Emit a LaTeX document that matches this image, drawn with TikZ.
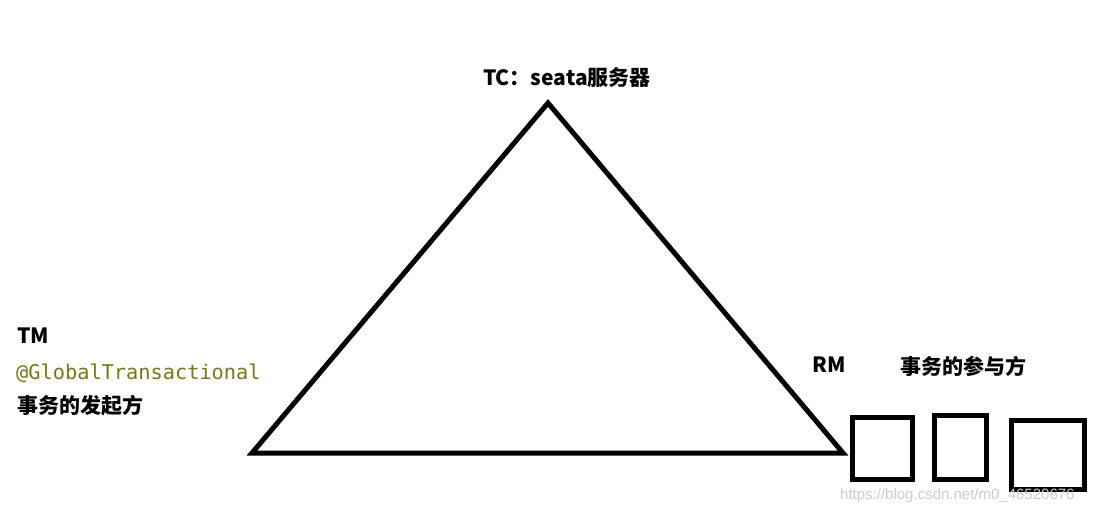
\documentclass[tikz,border=0pt]{standalone}
\usepackage{fontspec}
\newfontfamily\cjk{Noto Sans CJK SC}
\newfontfamily\monof{DejaVu Sans Mono}
\newfontfamily\wmf{Liberation Sans}
\definecolor{olivetext}{RGB}{120,120,20}
\definecolor{wmgray}{RGB}{205,205,205}
\begin{document}
\begin{tikzpicture}[x=1pt,y=-1pt,
  lbl/.style={inner sep=0pt,anchor=base west,font=\cjk\bfseries\fontsize{21}{24}\selectfont},
  code/.style={inner sep=0pt,anchor=base west,text=olivetext,font=\monof\fontsize{20.3}{24}\selectfont},
  edge/.style={line width=5pt,line join=miter},
  rmbox/.style={draw,line width=5pt}]
\useasboundingbox (0,0) rectangle (1096,513);
\fill[white] (0,0) rectangle (1096,513);
\coordinate (apex) at (548,103);
\coordinate (left) at (252,453);
\coordinate (right) at (843,453);
\draw[edge] (apex) -- (left) -- (right) -- cycle;
\draw[rmbox] (852.5,417.5) rectangle (912.5,479.5);
\draw[rmbox] (934.5,415.5) rectangle (986.5,479.5);
\draw[rmbox] (1011.5,420.5) rectangle (1084.5,489.5);
\node[lbl] (tc) at (483,86) {TC：seata服务器};
\node[lbl] (tm) at (17,344) {TM};
\node[code] (anno) at (16,379) {@GlobalTransactional};
\node[lbl] (tmdesc) at (17,413) {事务的发起方};
\node[lbl] (rm) at (812,372) {RM};
\node[lbl] (rmdesc) at (900,374) {事务的参与方};
\node[inner sep=0pt,anchor=base west,text=wmgray,font=\wmf\fontsize{15}{18}\selectfont] (wm) at (840,499) {https://blog.csdn.net/m0\_46520676};
\end{tikzpicture}
\end{document}
